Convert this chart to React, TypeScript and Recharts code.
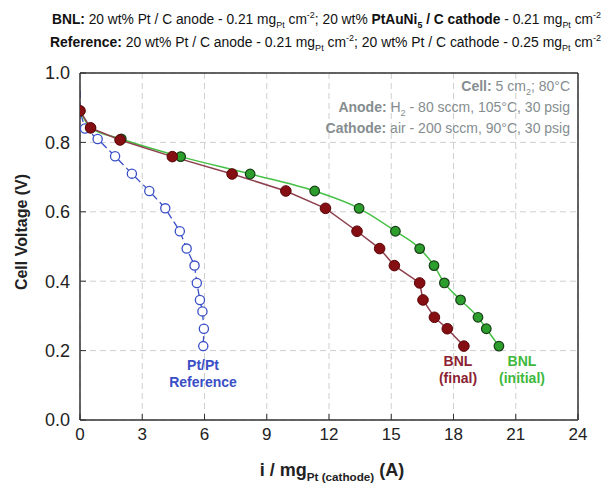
import React from "react";
import {
  LineChart,
  Line,
  XAxis,
  YAxis,
  CartesianGrid,
} from "recharts";

// i / mg_Pt (A) and cell voltage (V)
const refCurrent = [0, 0, 0.24, 0.85, 1.69, 2.5, 3.34, 4.11, 4.81, 5.14, 5.52, 5.63, 5.78, 5.9, 5.97, 5.94];
const refVoltage = [0.95, 0.89, 0.84, 0.81, 0.76, 0.71, 0.66, 0.61, 0.544, 0.494, 0.445, 0.395, 0.346, 0.313, 0.263, 0.213];

const finalCurrent = [0, 0.51, 1.93, 4.45, 7.33, 9.92, 11.83, 13.35, 14.44, 15.15, 16.37, 16.53, 17.08, 17.7, 18.5];
const finalVoltage = [0.891, 0.842, 0.807, 0.759, 0.709, 0.66, 0.61, 0.544, 0.494, 0.445, 0.395, 0.346, 0.296, 0.263, 0.213];

const initialCurrent = [0, 0.51, 1.99, 4.85, 8.2, 11.31, 13.45, 15.2, 16.37, 17.06, 17.56, 18.34, 19.18, 19.58, 20.19];
const initialVoltage = [0.891, 0.842, 0.81, 0.759, 0.709, 0.66, 0.61, 0.544, 0.494, 0.445, 0.395, 0.346, 0.296, 0.263, 0.213];

const xTicks = [0, 3, 6, 9, 12, 15, 18, 21, 24];
const yTicks = [0, 0.2, 0.4, 0.6, 0.8, 1.0];

const toPoints = (xs: number[], ys: number[]) => xs.map((x, i) => ({ x, y: ys[i] }));

const refData = toPoints(refCurrent, refVoltage);
const finalData = toPoints(finalCurrent, finalVoltage);
const initialData = toPoints(initialCurrent, initialVoltage);

const FONT = '"Liberation Sans", Arial, sans-serif';

type Seg = { t: string; b?: boolean; s?: "sub" | "sup" };

// renders a run of text with bold / sub / superscript pieces
function RichText({ segs, size }: { segs: Seg[]; size: number }) {
  let shift = 0;
  return (
    <>
      {segs.map((sg, i) => {
        const target = sg.s === "sub" ? size * 0.3 : sg.s === "sup" ? -size * 0.4 : 0;
        const dy = target - shift;
        shift = target;
        return (
          <tspan
            key={i}
            dy={dy}
            fontWeight={sg.b ? "bold" : "normal"}
            fontSize={sg.s ? size * 0.65 : size}
          >
            {sg.t}
          </tspan>
        );
      })}
    </>
  );
}

const header1: Seg[] = [
  { t: "BNL:", b: true },
  { t: " 20 wt% Pt / C anode - 0.21 mg" },
  { t: "Pt", s: "sub" },
  { t: " cm" },
  { t: "-2", s: "sup" },
  { t: "; 20 wt% " },
  { t: "PtAuNi", b: true },
  { t: "5", b: true, s: "sub" },
  { t: " / C cathode", b: true },
  { t: " - 0.21 mg" },
  { t: "Pt", s: "sub" },
  { t: " cm" },
  { t: "-2", s: "sup" },
];

const header2: Seg[] = [
  { t: "Reference:", b: true },
  { t: " 20 wt% Pt / C anode - 0.21 mg" },
  { t: "Pt", s: "sub" },
  { t: " cm" },
  { t: "-2", s: "sup" },
  { t: "; 20 wt% Pt / C cathode - 0.25 mg" },
  { t: "Pt", s: "sub" },
  { t: " cm" },
  { t: "-2", s: "sup" },
];

const note1: Seg[] = [{ t: "Cell:", b: true }, { t: " 5 cm" }, { t: "2", s: "sub" }, { t: "; 80°C" }];
const note2: Seg[] = [{ t: "Anode:", b: true }, { t: " H" }, { t: "2", s: "sub" }, { t: " - 80 sccm, 105°C, 30 psig" }];
const note3: Seg[] = [{ t: "Cathode:", b: true }, { t: " air - 200 sccm, 90°C, 30 psig" }];

const xTitle: Seg[] = [
  { t: "i / mg", b: true },
  { t: "Pt (cathode)", b: true, s: "sub" },
  { t: " (A)", b: true },
];

const RefDot = (props: any) => {
  const { cx, cy, index } = props;
  if (index < 2) return <g key={index} />;
  return <circle key={index} cx={cx} cy={cy} r={4.6} fill="#fff" stroke="#3a4fc6" strokeWidth={1.3} />;
};

export default function App() {
  const tickStyle = { fill: "#222", fontSize: 17, fontFamily: FONT };
  return (
    <div style={{ position: "absolute", left: 0, top: 0, width: 603, height: 483, background: "#fff" }}>
      <LineChart width={603} height={483} margin={{ top: 0, right: 0, bottom: 0, left: 0 }}>
        <CartesianGrid
          xAxisId="bottom"
          yAxisId="left"
          stroke="#cfcfcf"
          strokeDasharray="6 4"
          horizontalValues={yTicks}
          verticalValues={xTicks}
        />
        <XAxis
          xAxisId="bottom"
          type="number"
          dataKey="x"
          domain={[0, 24]}
          ticks={xTicks}
          height={63}
          tickSize={-6}
          tickMargin={14}
          tick={tickStyle}
          axisLine={{ stroke: "#333", strokeWidth: 1.5 }}
          tickLine={{ stroke: "#333" }}
          allowDataOverflow
        />
        <XAxis
          xAxisId="top"
          orientation="top"
          type="number"
          dataKey="x"
          domain={[0, 24]}
          ticks={xTicks}
          height={73}
          tickSize={-6}
          tickFormatter={() => ""}
          axisLine={{ stroke: "#333", strokeWidth: 1.5 }}
          tickLine={{ stroke: "#333" }}
        />
        <YAxis
          yAxisId="left"
          type="number"
          dataKey="y"
          domain={[0, 1]}
          ticks={yTicks}
          width={80}
          tickSize={-6}
          tickMargin={16}
          tick={{ ...tickStyle, fontSize: 18 }}
          tickFormatter={(v: number) => v.toFixed(1)}
          axisLine={{ stroke: "#333", strokeWidth: 1.5 }}
          tickLine={{ stroke: "#333" }}
        />
        <YAxis
          yAxisId="right"
          orientation="right"
          type="number"
          dataKey="y"
          domain={[0, 1]}
          ticks={yTicks}
          width={25}
          tickSize={-6}
          tickFormatter={() => ""}
          axisLine={{ stroke: "#333", strokeWidth: 1.5 }}
          tickLine={{ stroke: "#333" }}
        />
        <Line
          xAxisId="bottom"
          yAxisId="left"
          data={refData}
          dataKey="y"
          type="linear"
          stroke="#3a4fc6"
          strokeWidth={1.3}
          strokeDasharray="8 4"
          dot={RefDot}
          isAnimationActive={false}
        />
        <Line
          xAxisId="bottom"
          yAxisId="left"
          data={initialData}
          dataKey="y"
          type="monotone"
          stroke="#45c045"
          strokeWidth={1.5}
          dot={{ r: 4.8, fill: "#2c9e2c", stroke: "#173d17", strokeWidth: 1.2 }}
          isAnimationActive={false}
        />
        <Line
          xAxisId="bottom"
          yAxisId="left"
          data={finalData}
          dataKey="y"
          type="linear"
          stroke="#8e3f4e"
          strokeWidth={1.5}
          dot={{ r: 5.3, fill: "#840e12", stroke: "#5a0508", strokeWidth: 1 }}
          isAnimationActive={false}
        />
      </LineChart>

      <svg
        width={603}
        height={483}
        style={{ position: "absolute", left: 0, top: 0, pointerEvents: "none" }}
        fontFamily={FONT}
      >
        <text x={52} y={24} fill="#111" textLength={549} lengthAdjust="spacingAndGlyphs">
          <RichText segs={header1} size={14} />
        </text>
        <text x={50} y={47} fill="#111" textLength={551} lengthAdjust="spacingAndGlyphs">
          <RichText segs={header2} size={14} />
        </text>

        <g fill="#858d8f" textAnchor="end">
          <text x={570} y={91}>
            <RichText segs={note1} size={14} />
          </text>
          <text x={570} y={112}>
            <RichText segs={note2} size={14} />
          </text>
          <text x={570} y={133}>
            <RichText segs={note3} size={14} />
          </text>
        </g>

        <g fontWeight="bold" fontSize={14} textAnchor="middle">
          <text x={203} y={370} fill="#3a4fc6">Pt/Pt</text>
          <text x={203} y={387} fill="#3a4fc6">Reference</text>
          <text x={458} y={366} fill="#8a2232">BNL</text>
          <text x={458} y={383} fill="#8a2232">(final)</text>
          <text x={522} y={366} fill="#3db83d">BNL</text>
          <text x={522} y={383} fill="#3db83d">(initial)</text>
        </g>

        <text
          transform="translate(27 232) rotate(-90)"
          textAnchor="middle"
          fontWeight="bold"
          fontSize={16}
          fill="#222"
        >
          Cell Voltage (V)
        </text>
        <text x={332} y={476} textAnchor="middle" fill="#222">
          <RichText segs={xTitle} size={18} />
        </text>
      </svg>
    </div>
  );
}
